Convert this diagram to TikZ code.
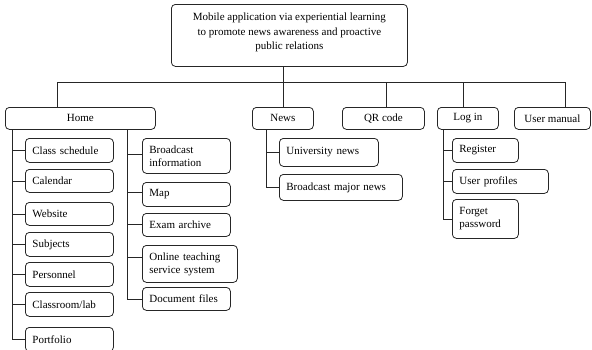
\documentclass[tikz,border=0pt]{standalone}
\usepackage{fontspec}
\setmainfont{Liberation Serif}
\begin{document}
\begin{tikzpicture}[x=1pt,y=-1pt,
  every node/.style={font=\fontsize{11}{13}\selectfont},
  box/.style={draw=black!85, line width=0.8pt, rounded corners=4pt, inner ysep=0pt},
  topbox/.style={box, anchor=north west, align=center, inner xsep=0pt, font=\fontsize{11}{14.5}\selectfont},
  lvl/.style={box, anchor=north west, align=center, inner xsep=0pt},
  cbox/.style={box, anchor=north west, align=left, inner xsep=7pt},
  conn/.style={draw=black!85, line width=0.8pt}]
\useasboundingbox (0,0) rectangle (592,349);
\clip (0,0) rectangle (592,349);

% root
\node[topbox, minimum width=236pt, minimum height=62pt] (root) at (171,4)
  {Mobile application via experiential learning\\to promote news awareness and proactive\\public relations\\[-7pt]\mbox{}};

% level 1
\node[lvl, minimum width=150pt, minimum height=22pt] (home) at (5,107) {Home};
\node[lvl, minimum width=61pt, minimum height=22pt] (news) at (252,107) {News};
\node[lvl, minimum width=82pt, minimum height=22pt] (qr) at (342,107) {QR code};
\node[lvl, minimum width=61pt, minimum height=22pt] (login) at (437,107) {Log in};
\node[lvl, minimum width=76pt, minimum height=22pt] (um) at (514,107) {User manual};

% bus coordinates
\coordinate (dHome) at (57,82);
\coordinate (dNews) at (283,82);
\coordinate (dQR) at (386,82);
\coordinate (dLog) at (463,82);
\coordinate (dUM) at (565,82);

\draw[conn] (root.south -| dNews) -- (dNews);
\draw[conn] (dHome) -- (dUM);
\foreach \d/\n in {dHome/home, dNews/news, dQR/qr, dLog/login, dUM/um}
  \draw[conn] (\d) -- (\d |- \n.north);

% Home left column
\node[cbox, text width=74pt, minimum height=24pt] (cs) at (25,138) {Class schedule};
\node[cbox, text width=74pt, minimum height=23pt] (cal) at (25,169) {Calendar};
\node[cbox, text width=74pt, minimum height=23pt] (web) at (25,202) {Website};
\node[cbox, text width=74pt, minimum height=24pt] (subj) at (25,232) {Subjects};
\node[cbox, text width=74pt, minimum height=24pt] (pers) at (25,262) {Personnel};
\node[cbox, text width=74pt, minimum height=24pt] (lab) at (25,292) {Classroom/lab};
\node[cbox, text width=74pt, minimum height=24pt] (port) at (25,327) {Portfolio};

\coordinate (tL) at (12,0);
\draw[conn] (tL |- home.south) -- (tL |- port.west);
\foreach \n in {cs,cal,web,subj,pers,lab,port}
  \draw[conn] (tL |- \n.west) -- (\n.west);

% Home right column
\node[cbox, text width=74pt, minimum height=35pt] (bi) at (142,138) {Broadcast\\information};
\node[cbox, text width=74pt, minimum height=24pt] (map) at (142,182) {Map};
\node[cbox, text width=74pt, minimum height=23pt] (exam) at (142,213) {Exam archive};
\node[cbox, text width=81pt, minimum height=37pt] (onl) at (142,245) {Online teaching\\service system};
\node[cbox, text width=74pt, minimum height=23pt] (doc) at (142,287) {Document files};

\coordinate (tR) at (127,0);
\draw[conn] (tR |- home.south) -- (tR |- doc.west);
\foreach \n/\s in {bi/2pt, map/2pt, exam/1pt, onl/7pt, doc/0pt}
  \draw[conn] ([yshift=\s]tR |- \n.west) -- ([yshift=\s]\n.west);

% News children
\node[cbox, text width=85pt, minimum height=28pt] (un) at (279,138) {University news};
\node[cbox, text width=109pt, minimum height=26pt] (bmn) at (279,174) {Broadcast major news};
\coordinate (tN) at (266,0);
\draw[conn] (tN |- news.south) -- (tN |- bmn.west);
\foreach \n in {un,bmn}
  \draw[conn] (tN |- \n.west) -- (\n.west);

% Log in children
\node[cbox, text width=52pt, minimum height=24pt] (reg) at (452,138) {Register};
\node[cbox, text width=82pt, minimum height=24pt] (up) at (452,169) {User profiles};
\node[cbox, text width=52pt, minimum height=39pt] (fp) at (452,199) {Forget\\password};
\coordinate (tG) at (443,0);
\draw[conn] (tG |- login.south) -- (tG |- fp.west);
\foreach \n in {reg,up,fp}
  \draw[conn] (tG |- \n.west) -- (\n.west);
\end{tikzpicture}
\end{document}
